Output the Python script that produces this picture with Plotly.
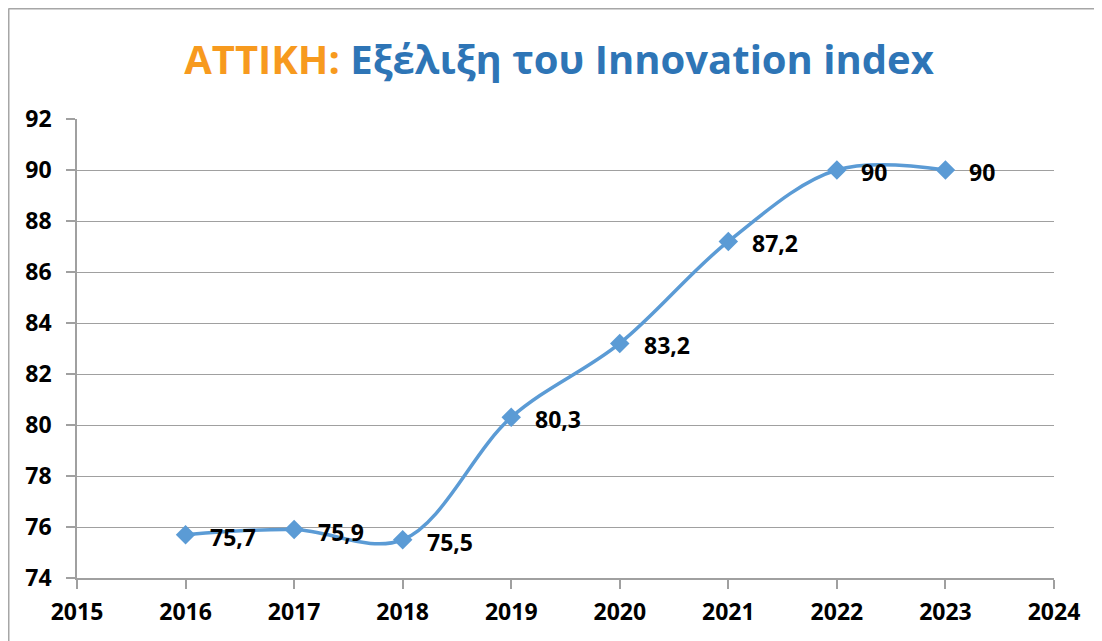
import plotly.graph_objects as go

years = [2016, 2017, 2018, 2019, 2020, 2021, 2022, 2023]
values = [75.7, 75.9, 75.5, 80.3, 83.2, 87.2, 90, 90]
labels = [("%g" % v).replace(".", ",") for v in values]
x_ticks = list(range(2015, 2025))
y_ticks = list(range(74, 93, 2))

# browser body margin is 8px, so the figure is offset by (8, 8)
OFF = 8
W, H = 1102 - OFF, 641 - OFF
ml, mr, mt, mb = 77 - OFF, 48, 119 - OFF, 63
pw, ph = W - ml - mr, H - mt - mb

FONT = "Open Sans"

fig = go.Figure()
fig.add_trace(go.Scatter(
    x=years, y=values, mode="lines+markers",
    line=dict(color="#5B9BD5", width=3.5, shape="spline", smoothing=1.0),
    marker=dict(symbol="diamond", size=15, color="#5B9BD5"),
    cliponaxis=False, hoverinfo="skip",
))

for xv, yv, lab in zip(years, values, labels):
    fig.add_annotation(
        x=xv, y=yv, text=lab, showarrow=False,
        xanchor="left", yanchor="middle", xshift=22, yshift=-2,
        font=dict(family=FONT, size=23, color="black", weight="bold"),
    )

bx = (0.5 - ml) / pw
by = 1 + (mt - 0.5) / ph
fig.add_shape(type="line", xref="paper", yref="paper", x0=bx, x1=bx, y0=by, y1=-0.3,
              line=dict(color="#A6A6A6", width=2))
fig.add_shape(type="line", xref="paper", yref="paper", x0=bx, x1=1.2, y0=by, y1=by,
              line=dict(color="#A6A6A6", width=2))

fig.update_layout(
    width=W, height=H,
    margin=dict(l=ml, r=mr, t=mt, b=mb),
    paper_bgcolor="white", plot_bgcolor="white",
    showlegend=False,
    title=dict(
        text="<span style='color:#F79A1E'>ΑΤΤΙΚΗ:</span> <span style='color:#2E75B6'>Εξέλιξη του Innovation index</span>",
        x=(559 - OFF) / W, xref="container", xanchor="center",
        y=1 - (60 - OFF) / H, yref="container", yanchor="middle",
        font=dict(family=FONT, size=40, weight="bold"),
    ),
    xaxis=dict(
        range=[2015, 2024], tickvals=x_ticks, ticktext=[str(t) for t in x_ticks],
        showgrid=False, showline=True, linecolor="#A0A0A0", linewidth=1.5,
        ticks="outside", ticklen=9, tickcolor="#A0A0A0", tickwidth=1.5,
        ticklabelstandoff=4,
        tickfont=dict(family=FONT, size=23, color="black", weight="bold"),
        zeroline=False,
    ),
    yaxis=dict(
        range=[74, 92], tickvals=y_ticks,
        showgrid=True, gridcolor="#A0A0A0", gridwidth=1.2,
        showline=True, linecolor="#A0A0A0", linewidth=1.5,
        ticks="outside", ticklen=9, tickcolor="#A0A0A0", tickwidth=1.5,
        ticklabelstandoff=10,
        tickfont=dict(family=FONT, size=23, color="black", weight="bold"),
        zeroline=False,
    ),
)

fig.write_html("out.html")
